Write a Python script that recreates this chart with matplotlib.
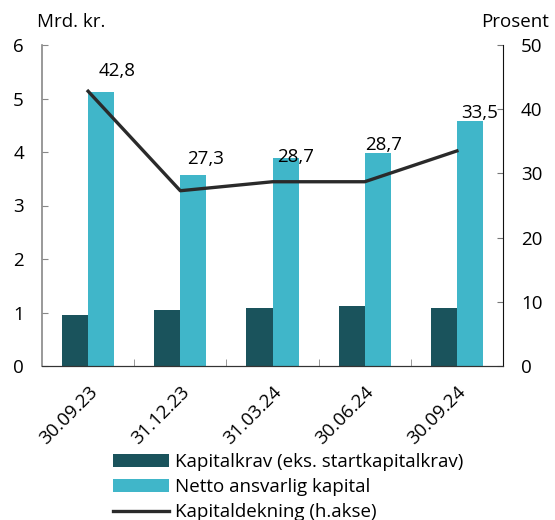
import matplotlib
matplotlib.use("Agg")
import matplotlib.pyplot as plt
import numpy as np

categories = ["30.09.23", "31.12.23", "31.03.24", "30.06.24", "30.09.24"]
kapitalkrav = [0.95, 1.04, 1.08, 1.12, 1.09]
netto_ansvarlig = [5.13, 3.57, 3.88, 3.99, 4.58]
kapitaldekning = [42.8, 27.3, 28.7, 28.7, 33.5]
label_texts = ["42,8", "27,3", "28,7", "28,7", "33,5"]
label_offsets_px = [(29, 20), (25, 32), (23, 25), (19, 37), (23, 38)]

plt.rcParams['font.family'] = ['Open Sans', 'DejaVu Sans']
FS = 13.5
plt.rcParams['font.size'] = FS

dark = "#1a535c"
cyan = "#40b6c9"
linec = "#2a2a2a"

fig = plt.figure(figsize=(5.55, 5.2), dpi=100)
L, R, T, B = 42, 503, 45, 366
ax = fig.add_axes([L/555, 1-B/520, (R-L)/555, (B-T)/520])
ax2 = ax.twinx()

x = np.arange(len(categories))
w = 0.283
ax.bar(x - w/2, kapitalkrav, width=w, color=dark, label="Kapitalkrav (eks. startkapitalkrav)")
ax.bar(x + w/2, netto_ansvarlig, width=w, color=cyan, label="Netto ansvarlig kapital")
ln, = ax2.plot(x, kapitaldekning, color=linec, lw=2.4, label="Kapitaldekning (h.akse)")

for xi, yi, t, off in zip(x, kapitaldekning, label_texts, label_offsets_px):
    ax2.annotate(t, (xi, yi), xytext=(off[0], off[1]), textcoords="offset pixels",
                 ha="center", va="center", fontsize=FS)

ax.set_xlim(-0.5, len(categories) - 0.5)
ax.set_ylim(0, 6)
ax2.set_ylim(0, 50)
ax.set_yticks(range(0, 7))
ax2.set_yticks(range(0, 51, 10))

ax.set_xticks(x)
ax.set_xticklabels(categories, rotation=45, ha="right", rotation_mode="anchor")
ax.tick_params(axis="x", which="major", length=0, pad=12)
ax.set_xticks(np.arange(0.5, len(categories) - 0.5, 1), minor=True)
ax.tick_params(axis="x", which="minor", direction="in", length=5, color="#888888")

ax.tick_params(axis="y", direction="in", length=4.5, color="#888888", pad=13)
ax2.tick_params(axis="y", direction="in", length=4, color="#777777", pad=13)

for a in (ax, ax2):
    a.spines["top"].set_visible(False)
ax.spines["left"].set_color("#888888")
ax.spines["left"].set_linewidth(1.2)
ax2.spines["left"].set_visible(False)
ax2.spines["right"].set_color("#111111")
ax2.spines["bottom"].set_color("#333333")
ax.spines["bottom"].set_color("#333333")
ax.spines["right"].set_visible(False)

fig.text(37/555, 1-22/520, "Mrd. kr.", ha="left", va="center", fontsize=FS)
fig.text(549/555, 1-22/520, "Prosent", ha="right", va="center", fontsize=FS)

handles = ax.get_legend_handles_labels()[0] + [ln]
labels = [h.get_label() for h in handles]
fig.legend(handles, labels, loc="upper left", bbox_to_anchor=(113/555, 1-453/520),
           frameon=False, handlelength=3.0, handleheight=0.7, handletextpad=0.3,
           labelspacing=0.38, borderaxespad=0, borderpad=0, fontsize=FS)

fig.savefig("out.png", dpi=100)
